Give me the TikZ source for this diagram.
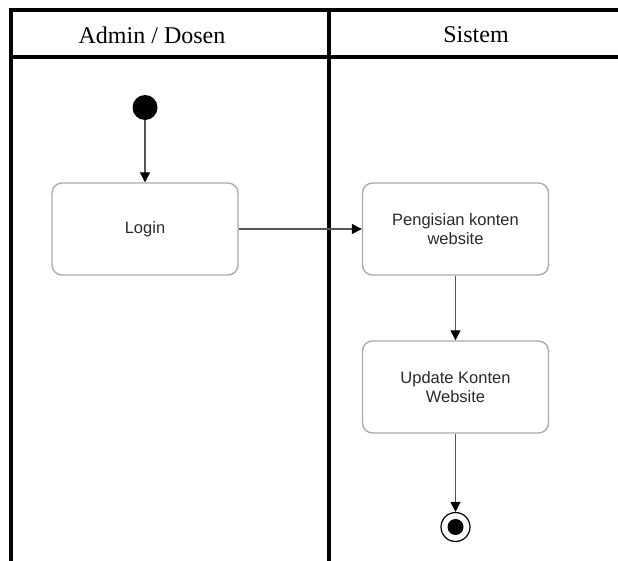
\documentclass[tikz,border=0pt]{standalone}
\usepackage{fontspec}
\setmainfont{Liberation Serif}
\newfontfamily\boxfont{Liberation Sans}
\usetikzlibrary{arrows.meta}
\definecolor{boxgray}{HTML}{ABABAB}
\definecolor{linegray}{HTML}{555555}
\definecolor{txtgray}{HTML}{2A2A2A}
\tikzset{
  frame/.style={line width=3.2pt, black},
  lanehead/.style={font=\fontsize{24}{28}\selectfont, anchor=center},
  actbox/.style={draw=boxgray, line width=1.4pt, rounded corners=10pt,
    minimum width=186pt, minimum height=92pt, inner sep=0pt,
    align=center, text=txtgray, font=\boxfont\fontsize{16.5}{18.5}\selectfont},
  flow/.style={draw=linegray, line width=1.3pt,
    -{Triangle[length=10pt,width=10pt,fill=black,color=black]}},
}
\begin{document}
\begin{tikzpicture}[x=1pt,y=-1pt]
\useasboundingbox[fill=white] (0,0) rectangle (618,561);
% swimlane frame
\draw[frame] (11,561) -- (11,10) -- (620,10);
\draw[frame] (11,57) -- (620,57);
\draw[frame] (329,10) -- (329,563);
\node[lanehead] (laneA) at (152,35) {Admin / Dosen};
\node[lanehead] (laneB) at (476,35) {Sistem};
% nodes
\node[circle, fill=black, minimum size=25pt, inner sep=0pt] (start) at (145,107.5) {};
\node[actbox] (login) at (145,229) {Login};
\node[actbox] (isi) at (455.5,229) {Pengisian konten\\website};
\node[actbox] (upd) at (455.5,387) {Update Konten\\Website};
\node[circle, draw=black, line width=1.2pt, minimum size=29pt, inner sep=0pt] (end) at (455.5,527) {};
\node[circle, fill=black, minimum size=16pt, inner sep=0pt] (endin) at (end.center) {};
% connectors
\draw[flow] (start) -- (login);
\draw[flow] (login) -- (isi);
\draw[flow] (isi) -- (upd);
\draw[flow] (upd) -- (end);
\end{tikzpicture}
\end{document}
